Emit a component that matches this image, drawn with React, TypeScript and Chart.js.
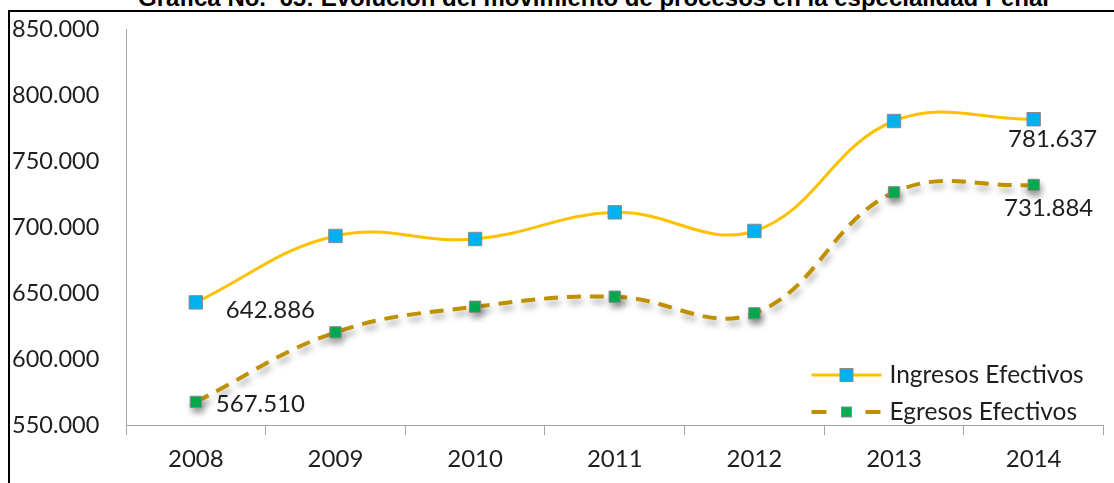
import React, { useEffect, useRef } from 'react';
import { Chart, registerables } from 'chart.js';

Chart.register(...registerables);

const TITLE = 'Gráfica No.  65: Evolución del movimiento de procesos en la especialidad Penal';
const YEARS = ['2008', '2009', '2010', '2011', '2012', '2013', '2014'];
const INGRESOS = [642886, 693200, 690900, 711100, 697000, 780300, 781637];
const EGRESOS = [567510, 620200, 639600, 647200, 634600, 726300, 731884];
const SERIES_NAMES = ['Ingresos Efectivos', 'Egresos Efectivos'];
const Y_MIN = 550000;
const Y_MAX = 850000;
const Y_STEP = 50000;
const LABELED_INDEXES = [0, 6];

const LINE_COLORS = ['#FFC000', '#BF9000'];
const MARKER_COLORS = ['#00B0F0', '#00B050'];
const MARKER_BORDER = '#8a8a8a';
const TEXT_COLOR = '#1e1e1e';
const AXIS_COLOR = '#a6a6a6';
const FONT = 'Lato';

const fmt = (v: number) => Math.round(v).toString().replace(/\B(?=(\d{3})+(?!\d))/g, '.');

const shadowPlugin = {
  id: 'egresosShadow',
  beforeDatasetDraw(chart: any, args: any) {
    if (args.index === 1) {
      const ctx = chart.ctx;
      ctx.save();
      ctx.shadowColor = 'rgba(0,0,0,0.35)';
      ctx.shadowBlur = 6;
      ctx.shadowOffsetX = 2;
      ctx.shadowOffsetY = 5;
    }
  },
  afterDatasetDraw(chart: any, args: any) {
    if (args.index === 1) chart.ctx.restore();
  },
};

const labelPlugin = {
  id: 'endLabels',
  afterDatasetsDraw(chart: any) {
    const ctx = chart.ctx;
    const offsets = [
      [{ dx: 30, dy: 8, align: 'left' }, { dx: 19, dy: 20, align: 'center' }],
      [{ dx: 20, dy: 2, align: 'left' }, { dx: 15, dy: 23, align: 'center' }],
    ];
    ctx.save();
    ctx.font = `24px ${FONT}`;
    ctx.fillStyle = TEXT_COLOR;
    ctx.textBaseline = 'middle';
    chart.data.datasets.forEach((ds: any, di: number) => {
      const meta = chart.getDatasetMeta(di);
      LABELED_INDEXES.forEach((idx, k) => {
        const pt = meta.data[idx];
        const o = offsets[di][k];
        ctx.textAlign = o.align;
        ctx.fillText(fmt(ds.data[idx]), pt.x + o.dx, pt.y + o.dy);
      });
    });
    ctx.restore();
  },
};

const legendPlugin = {
  id: 'customLegend',
  afterDraw(chart: any) {
    const ctx = chart.ctx;
    const area = chart.chartArea;
    const x0 = area.right - 292;
    const x1 = x0 + 70;
    const xm = x0 + 35;
    const rows = [area.bottom - 50, area.bottom - 13];
    ctx.save();
    rows.forEach((y, i) => {
      ctx.beginPath();
      ctx.strokeStyle = LINE_COLORS[i];
      ctx.lineWidth = i === 0 ? 3 : 4;
      ctx.setLineDash(i === 0 ? [] : [15, 39]);
      ctx.moveTo(x0, y);
      ctx.lineTo(x1, y);
      ctx.stroke();
      ctx.setLineDash([]);
      const s = i === 0 ? 13 : 10;
      ctx.fillStyle = MARKER_COLORS[i];
      ctx.fillRect(xm - s / 2, y - s / 2, s, s);
      ctx.lineWidth = 1;
      ctx.strokeStyle = MARKER_BORDER;
      ctx.strokeRect(xm - s / 2, y - s / 2, s, s);
      ctx.font = `24.5px ${FONT}`;
      ctx.fillStyle = TEXT_COLOR;
      ctx.textBaseline = 'middle';
      ctx.textAlign = 'left';
      ctx.fillText(SERIES_NAMES[i], x1 + 8, y);
    });
    ctx.restore();
  },
};

export default function App() {
  const canvasRef = useRef<HTMLCanvasElement | null>(null);

  useEffect(() => {
    if (!canvasRef.current) return;
    const chart = new Chart(canvasRef.current, {
      type: 'line',
      data: {
        labels: YEARS,
        datasets: [
          {
            label: SERIES_NAMES[0],
            data: INGRESOS,
            borderColor: LINE_COLORS[0],
            borderWidth: 3,
            tension: 0.4,
            fill: false,
            pointStyle: 'rect',
            pointRadius: 9.5,
            pointBackgroundColor: MARKER_COLORS[0],
            pointBorderColor: MARKER_BORDER,
            pointBorderWidth: 1,
          },
          {
            label: SERIES_NAMES[1],
            data: EGRESOS,
            borderColor: LINE_COLORS[1],
            borderWidth: 4,
            borderDash: [14, 9],
            tension: 0.4,
            fill: false,
            pointStyle: 'rect',
            pointRadius: 8,
            pointBackgroundColor: MARKER_COLORS[1],
            pointBorderColor: MARKER_BORDER,
            pointBorderWidth: 1,
          },
        ],
      },
      options: {
        responsive: false,
        animation: false,
        devicePixelRatio: 1,
        layout: { padding: { left: 12, right: 9, top: 29, bottom: 0 } },
        plugins: { legend: { display: false }, tooltip: { enabled: false }, title: { display: false } },
        scales: {
          x: {
            type: 'category',
            offset: true,
            grid: { display: true, drawOnChartArea: false, offset: true, tickLength: 10, color: AXIS_COLOR, lineWidth: 1 },
            border: { color: AXIS_COLOR, width: 1 },
            ticks: { font: { family: FONT, size: 24 }, color: TEXT_COLOR, padding: 10, maxRotation: 0 },
            afterFit: (s: any) => { s.height = 58; },
          },
          y: {
            min: Y_MIN,
            max: Y_MAX,
            ticks: {
              stepSize: Y_STEP,
              callback: (v: any) => fmt(Number(v)),
              crossAlign: 'far',
              font: { family: FONT, size: 23.5 },
              color: TEXT_COLOR,
              padding: 0,
            },
            grid: { display: true, drawOnChartArea: false, drawTicks: false, color: AXIS_COLOR },
            border: { color: AXIS_COLOR, width: 1 },
            afterFit: (s: any) => { s.width = 114; },
          },
        },
      } as any,
      plugins: [shadowPlugin, labelPlugin, legendPlugin],
    });
    return () => chart.destroy();
  }, []);

  return (
    <div style={{ position: 'fixed', left: 0, top: 0, width: 1114, height: 483, overflow: 'hidden', background: '#fff' }}>
      <div
        style={{
          position: 'absolute',
          left: 138,
          top: -14,
          fontFamily: '"Liberation Sans", Arial, sans-serif',
          fontWeight: 'bold',
          fontSize: 24,
          lineHeight: '24px',
          whiteSpace: 'pre',
          color: '#000',
        }}
      >
        {TITLE}
      </div>
      <div
        style={{
          position: 'absolute',
          left: 8,
          top: 10,
          width: 1200,
          height: 600,
          borderLeft: '2px solid #000',
          borderTop: '2px solid #000',
        }}
      />
      <canvas ref={canvasRef} width={1114} height={483} style={{ position: 'absolute', left: 0, top: 0, width: 1114, height: 483 }} />
    </div>
  );
}
